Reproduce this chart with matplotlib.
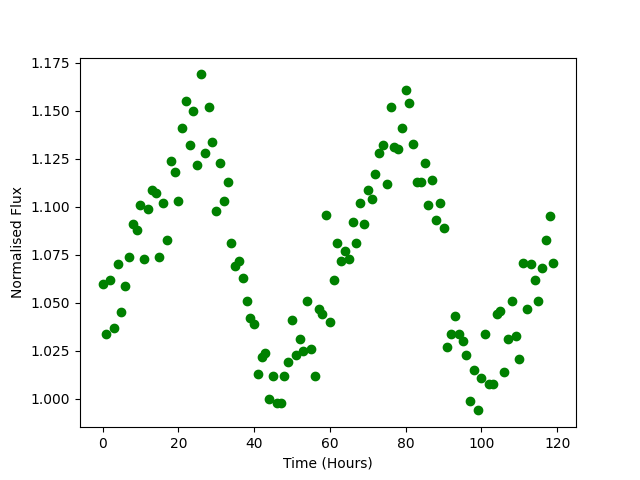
import matplotlib
matplotlib.use('Agg')
import matplotlib.pyplot as plt
import numpy as np

# time in hours, one sample per hour
time_hours = np.arange(120)

# normalised flux
flux = [
    1.060, 1.034, 1.062, 1.037, 1.070, 1.045, 1.059, 1.074, 1.091, 1.088,
    1.101, 1.073, 1.099, 1.109, 1.107, 1.074, 1.102, 1.083, 1.124, 1.118,
    1.103, 1.141, 1.155, 1.132, 1.150, 1.122, 1.169, 1.128, 1.152, 1.134,
    1.098, 1.123, 1.103, 1.113, 1.081, 1.069, 1.072, 1.063, 1.051, 1.042,
    1.039, 1.013, 1.022, 1.024, 1.000, 1.012, 0.998, 0.998, 1.012, 1.019,
    1.041, 1.023, 1.031, 1.025, 1.051, 1.026, 1.012, 1.047, 1.044, 1.096,
    1.040, 1.062, 1.081, 1.072, 1.077, 1.073, 1.092, 1.081, 1.102, 1.091,
    1.109, 1.104, 1.117, 1.128, 1.132, 1.112, 1.152, 1.131, 1.130, 1.141,
    1.161, 1.154, 1.133, 1.113, 1.113, 1.123, 1.101, 1.114, 1.093, 1.102,
    1.089, 1.027, 1.034, 1.043, 1.034, 1.030, 1.023, 0.999, 1.015, 0.994,
    1.011, 1.034, 1.008, 1.008, 1.044, 1.046, 1.014, 1.031, 1.051, 1.033,
    1.021, 1.071, 1.047, 1.070, 1.062, 1.051, 1.068, 1.083, 1.095, 1.071,
]

fig = plt.figure(figsize=(6.4, 4.8), dpi=100)
ax = fig.add_subplot(1, 1, 1)
ax.plot(time_hours, flux, 'go')
ax.set_xlabel('Time (Hours)')
ax.set_ylabel('Normalised Flux')
plt.savefig('out.png', dpi=100)
